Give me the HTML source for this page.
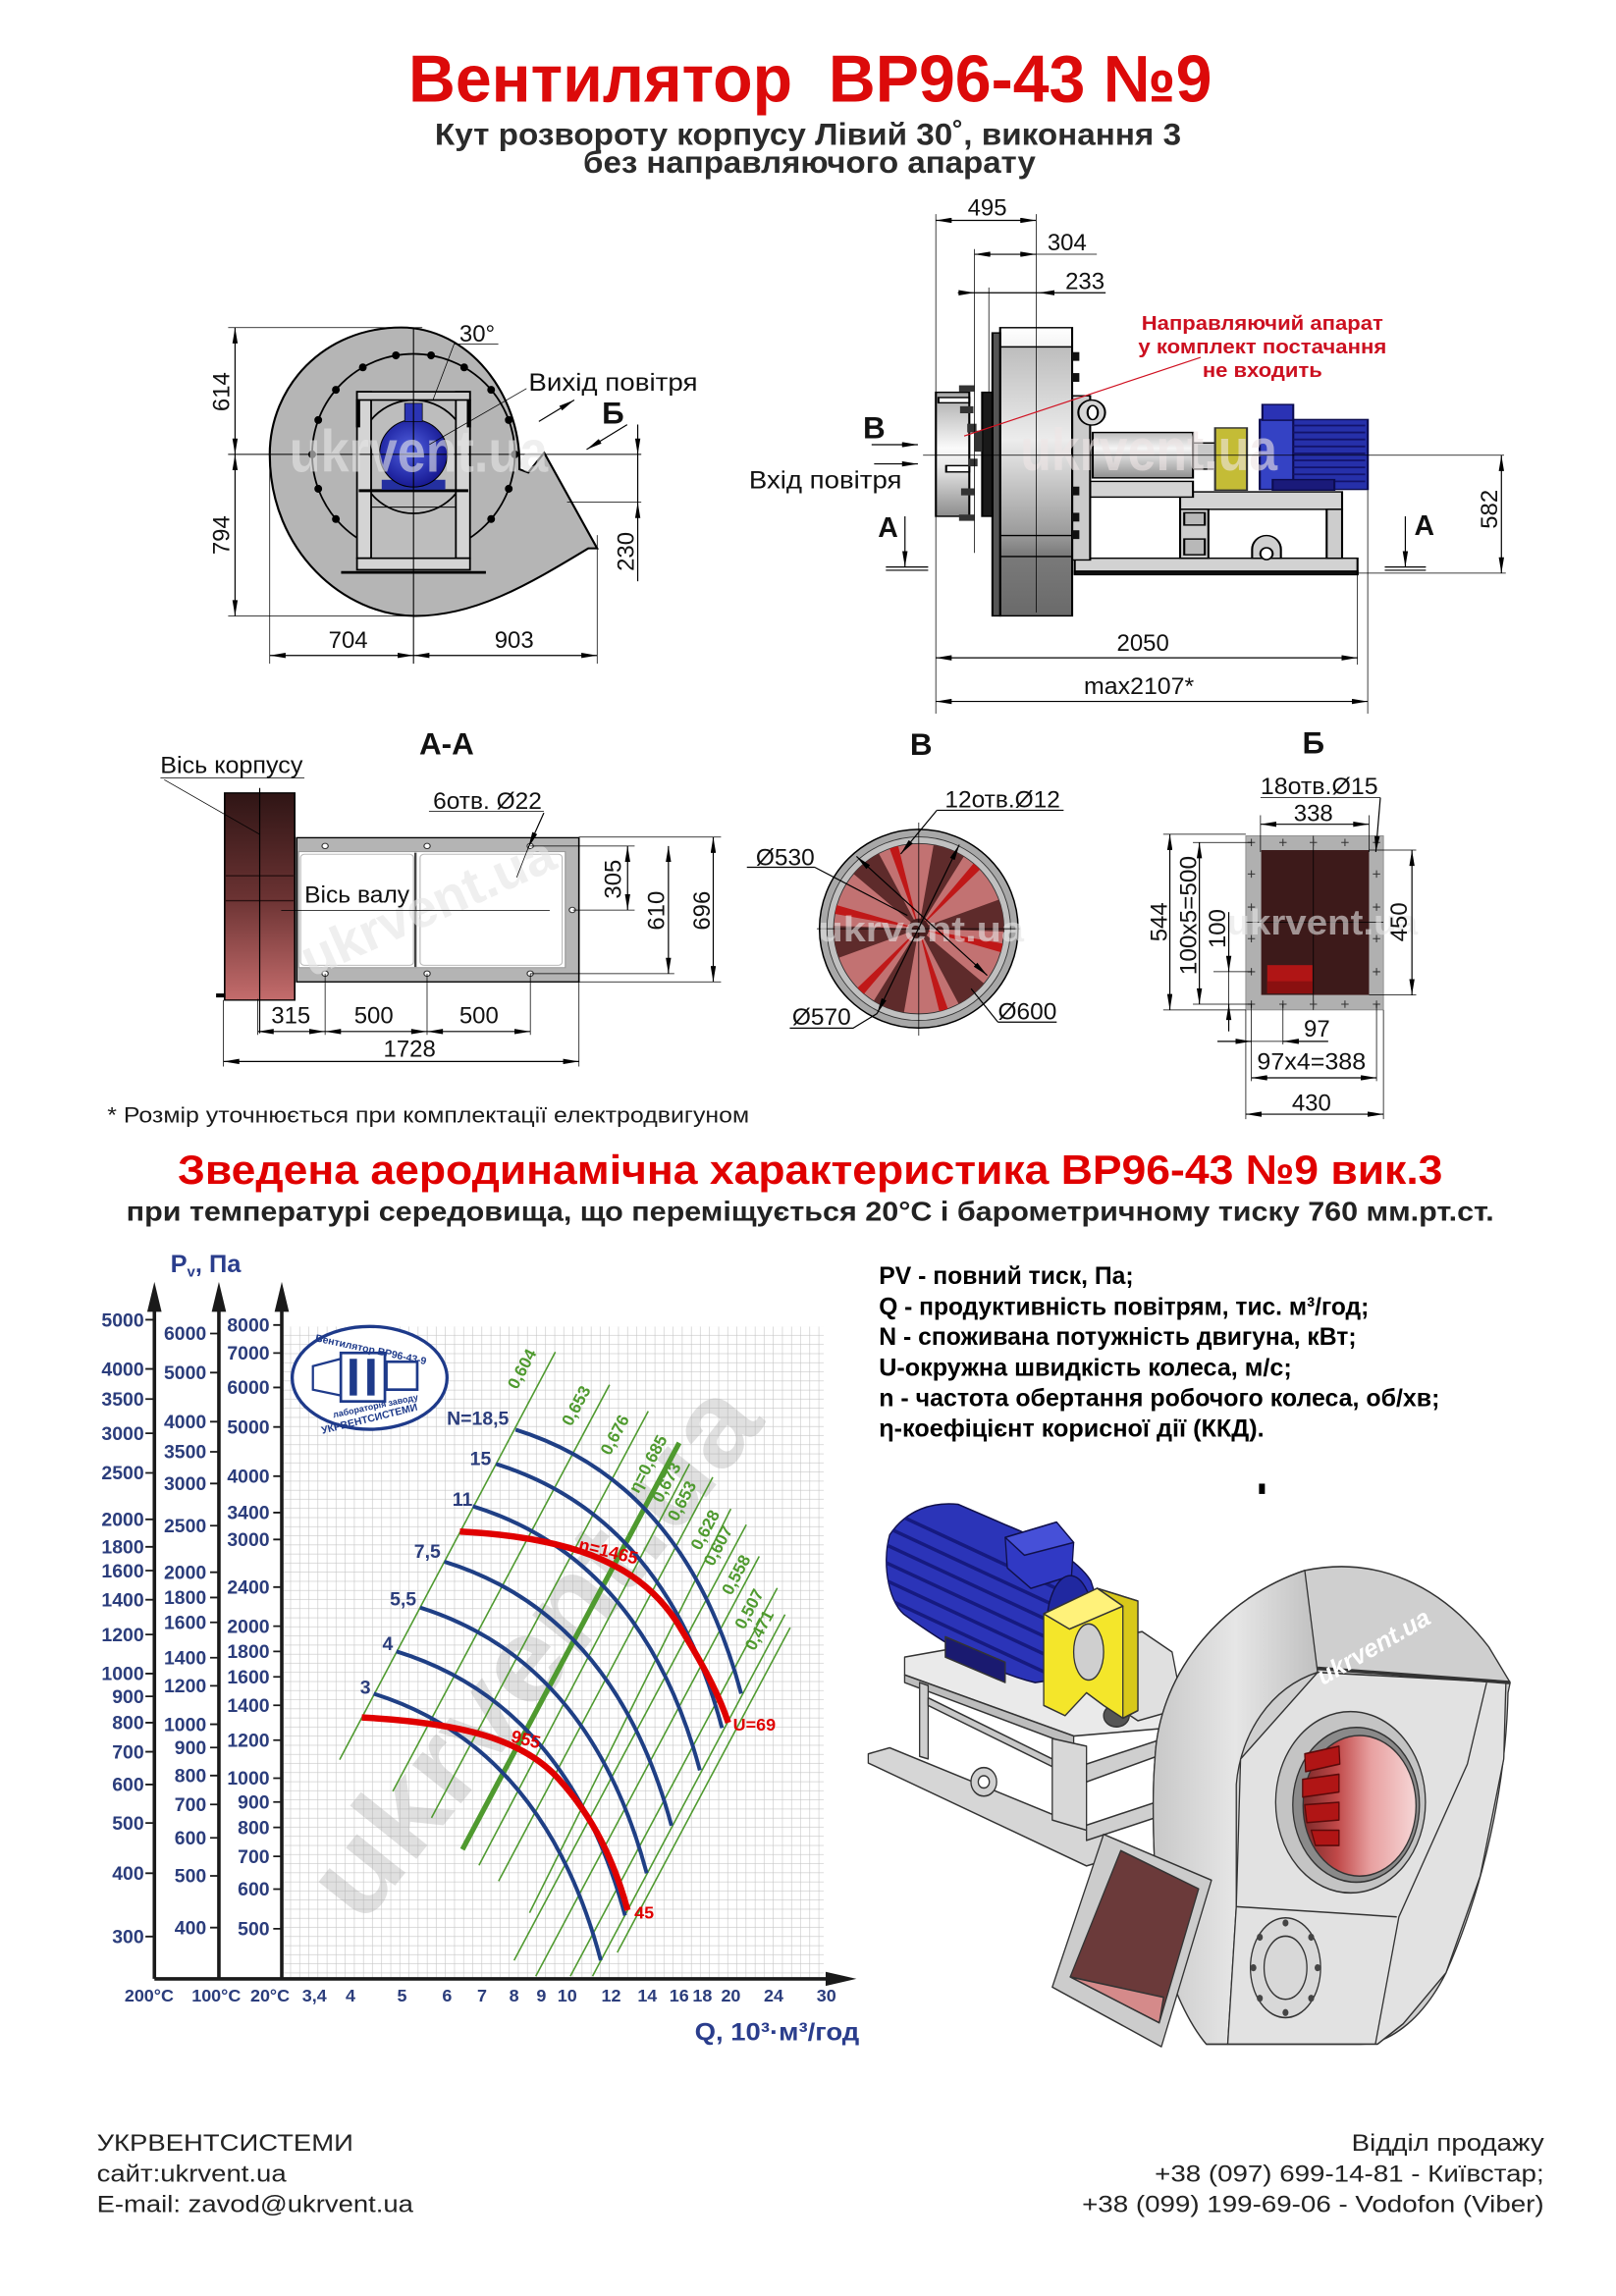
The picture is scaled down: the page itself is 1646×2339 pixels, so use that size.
<!DOCTYPE html>
<html lang="uk"><head><meta charset="utf-8"><title>Вентилятор ВР96-43 №9</title>
<style>
html,body{margin:0;padding:0;background:#fff;width:1646px;height:2339px;overflow:hidden}
svg{display:block}
text{font-family:"Liberation Sans",Arial,sans-serif}
.d{font-size:16px;fill:#111;text-anchor:middle}
.l{stroke:#000;stroke-width:0.8;fill:none}
.t{stroke:#000;stroke-width:0.5;fill:none}
.m{marker-start:url(#ar);marker-end:url(#ar)}
.e{marker-end:url(#ar)}
.ax{font-size:13px;font-weight:bold;fill:#2b3d7c;text-anchor:end}
.xl{font-size:12px;font-weight:bold;fill:#2b3d7c;text-anchor:middle}
.g{font-size:11.5px;font-weight:bold;fill:#4f9a2f;text-anchor:middle}
.nb{font-size:13px;font-weight:bold;fill:#2b3d7c;text-anchor:middle}
.lg{font-size:17px;fill:#000;font-weight:bold}
.ft{font-size:16px;fill:#222}
.wm{font-weight:bold;fill:#e6e6e6;opacity:0.6;text-anchor:middle}
</style></head><body>
<svg xmlns="http://www.w3.org/2000/svg" width="1646" height="2339" viewBox="0 0 1100 1563" preserveAspectRatio="none">
<defs>
 <marker id="ar" viewBox="0 0 12 4" refX="12" refY="2" markerWidth="11" markerHeight="3.6" markerUnits="userSpaceOnUse" orient="auto-start-reverse"><path d="M0,0L12,2L0,4z" fill="#000"/></marker>
 <linearGradient id="hous" x1="0" y1="0" x2="0" y2="1">
  <stop offset="0" stop-color="#ffffff"/><stop offset="0.066" stop-color="#f4f4f4"/><stop offset="0.067" stop-color="#bdbdbd"/><stop offset="0.39" stop-color="#ececec"/><stop offset="0.72" stop-color="#9a9a9a"/><stop offset="0.79" stop-color="#7a7a7a"/><stop offset="1" stop-color="#6a6a6a"/>
 </linearGradient>
 <linearGradient id="inl" x1="0" y1="0" x2="0" y2="1"><stop offset="0" stop-color="#a8a8a8"/><stop offset="0.45" stop-color="#fafafa"/><stop offset="0.6" stop-color="#e8e8e8"/><stop offset="1" stop-color="#8c8c8c"/></linearGradient>
 <linearGradient id="cyl" x1="0" y1="0" x2="0" y2="1"><stop offset="0" stop-color="#bdbdbd"/><stop offset="0.35" stop-color="#f5f5f5"/><stop offset="1" stop-color="#8f8f8f"/></linearGradient>
 <linearGradient id="redG" x1="0" y1="0" x2="0" y2="1"><stop offset="0" stop-color="#2f1515"/><stop offset="0.5" stop-color="#6a3232"/><stop offset="1" stop-color="#c46c6c"/></linearGradient>
 <radialGradient id="mot" cx="0.45" cy="0.45" r="0.6"><stop offset="0" stop-color="#5563e0"/><stop offset="0.6" stop-color="#2a32b0"/><stop offset="1" stop-color="#14148a"/></radialGradient>
 <linearGradient id="pink" x1="0" y1="0" x2="1" y2="0"><stop offset="0" stop-color="#7a2a2a"/><stop offset="0.3" stop-color="#c04848"/><stop offset="0.6" stop-color="#e8a0a0"/><stop offset="1" stop-color="#f6d6d6"/></linearGradient>
 <linearGradient id="grayL" x1="0" y1="0" x2="1" y2="0"><stop offset="0" stop-color="#c8c8c8"/><stop offset="0.5" stop-color="#e6e6e6"/><stop offset="1" stop-color="#c0c0c0"/></linearGradient>
 <pattern id="grid" width="6.2" height="6.2" patternUnits="userSpaceOnUse" x="191.8" y="903.1"><path d="M6.2 0V6.2M0 6.2H6.2" stroke="#c6c6c6" stroke-width="0.8" fill="none"/></pattern>
 <clipPath id="mclip"><path d="M60,560 C100,510 160,495 220,500 L330,540 C420,570 500,610 530,650 C560,720 540,800 480,840 L400,850 C300,830 200,780 100,720 C60,700 40,620 60,560 Z"/></clipPath>
</defs>
<rect width="1100" height="1563" fill="#fff"/>

<!-- TITLES -->
<text x="551.5" y="69" font-size="45" font-weight="bold" fill="#dc0a0a" text-anchor="middle" textLength="547" lengthAdjust="spacingAndGlyphs">Вентилятор&#160; ВР96-43 №9</text>
<text x="550" y="98.5" font-size="21" font-weight="bold" fill="#2b2b2b" text-anchor="middle" textLength="508" lengthAdjust="spacingAndGlyphs">Кут розвороту корпусу Лівий 30˚, виконання 3</text>
<text x="551" y="117.5" font-size="21" font-weight="bold" fill="#2b2b2b" text-anchor="middle" textLength="308" lengthAdjust="spacingAndGlyphs">без направляючого апарату</text>

<!-- TOP-LEFT DRAWING -->
<g transform="translate(119.2,200.5) scale(0.2404,0.2244)">
 <path d="M975,520 C978,300 830,100 640,100 C420,100 268,280 268,485 C268,780 480,975 680,975 C850,975 1000,880 1170,770 L1195,770 L1045,480 L1000,540 L975,530 Z" fill="#b5b5b5" stroke="#000" stroke-width="6"/>
 <ellipse cx="675" cy="485" rx="287" ry="305" fill="none" stroke="#000" stroke-width="5"/>
 <g fill="#000">
  <ellipse cx="962" cy="485" rx="11" ry="12"/><ellipse cx="944.7" cy="589.3" rx="11" ry="12"/><ellipse cx="894.8" cy="681.1" rx="11" ry="12"/><ellipse cx="818.5" cy="749.1" rx="11" ry="12"/><ellipse cx="724.8" cy="785.4" rx="11" ry="12"/><ellipse cx="625.2" cy="785.4" rx="11" ry="12"/><ellipse cx="531.5" cy="749.1" rx="11" ry="12"/><ellipse cx="455.2" cy="681.1" rx="11" ry="12"/><ellipse cx="405.3" cy="589.3" rx="11" ry="12"/><ellipse cx="388" cy="485" rx="11" ry="12"/><ellipse cx="405.3" cy="380.7" rx="11" ry="12"/><ellipse cx="455.2" cy="289" rx="11" ry="12"/><ellipse cx="531.5" cy="220.9" rx="11" ry="12"/><ellipse cx="625.2" cy="184.6" rx="11" ry="12"/><ellipse cx="724.8" cy="184.6" rx="11" ry="12"/><ellipse cx="818.5" cy="220.9" rx="11" ry="12"/><ellipse cx="894.8" cy="289" rx="11" ry="12"/><ellipse cx="944.7" cy="380.7" rx="11" ry="12"/>
 </g>
 <rect x="555" y="320" width="240" height="480" fill="#bdbdbd"/>
 <ellipse cx="675" cy="492" rx="158" ry="172" fill="none" stroke="#000" stroke-width="5"/>
 <rect x="515" y="295" width="40" height="505" fill="#d4d4d4" stroke="#000" stroke-width="5"/>
 <rect x="795" y="295" width="40" height="505" fill="#d4d4d4" stroke="#000" stroke-width="5"/>
 <rect x="515" y="295" width="320" height="25" fill="#cdcdcd" stroke="#000" stroke-width="5"/>
 <rect x="512" y="318" width="12" height="85" fill="#000"/><rect x="826" y="318" width="12" height="85" fill="#000"/>
 <line x1="520" y1="595" x2="830" y2="595" stroke="#000" stroke-width="9"/>
 <line x1="555" y1="645" x2="795" y2="645" stroke="#000" stroke-width="3"/>
 <rect x="515" y="800" width="320" height="35" fill="#d4d4d4" stroke="#000" stroke-width="5"/>
 <line x1="470" y1="843" x2="880" y2="843" stroke="#000" stroke-width="8"/>
 <rect x="585" y="562" width="180" height="30" fill="#2430a0"/>
 <ellipse cx="675" cy="482" rx="96" ry="102" fill="url(#mot)" stroke="#000" stroke-width="3"/>
 <rect x="650" y="330" width="50" height="55" fill="#2b34b4" stroke="#000" stroke-width="2"/>
 <line x1="675" y1="100" x2="675" y2="1120" stroke="#000" stroke-width="3"/>
 <line x1="150" y1="485" x2="1320" y2="485" stroke="#000" stroke-width="3"/>
</g>
<text x="285" y="321" font-size="40" class="wm" textLength="176" lengthAdjust="spacingAndGlyphs">ukrvent.ua</text>
<!-- dims top-left -->
<path class="t" d="M155.3,223H287.5M155.3,419.3H282M183.6,317V451.8M406.5,364.3V451.8M386,341.9H436.5"/>
<line class="l m" x1="160" y1="223" x2="160" y2="309.3"/>
<line class="l m" x1="160" y1="309.3" x2="160" y2="419.3"/>
<line class="l m" x1="183.6" y1="446.2" x2="281.5" y2="446.2"/>
<line class="l m" x1="281.5" y1="446.2" x2="406.5" y2="446.2"/>
<line class="l" x1="434.1" y1="309.3" x2="434.1" y2="341.9"/>
<line class="l e" x1="434.1" y1="289" x2="434.1" y2="309.3"/>
<line class="l e" x1="434.1" y1="395.7" x2="434.1" y2="341.9"/>
<text class="d" transform="translate(156.2,266.7) rotate(-90)">614</text>
<text class="d" transform="translate(156.2,364.3) rotate(-90)">794</text>
<text class="d" x="237" y="441">704</text>
<text class="d" x="350" y="441">903</text>
<text class="d" transform="translate(431.4,375.5) rotate(-90)">230</text>
<text class="d" x="324.8" y="232.5">30°</text>
<path class="t" d="M309.1,234.2H339.2M309.1,234.2L294.7,272.3M358.4,264.5L292.3,302.6"/>
<text x="417.3" y="265.8" font-size="17" fill="#111" text-anchor="middle" textLength="115" lengthAdjust="spacingAndGlyphs">Вихід повітря</text>
<line class="l e" x1="366.8" y1="286.9" x2="390.9" y2="272.3"/>
<text x="417.3" y="288.5" font-size="21" font-weight="bold" fill="#111" text-anchor="middle">Б</text>
<line class="l e" x1="426.9" y1="289.1" x2="399.3" y2="306"/>

<!-- TOP-RIGHT DRAWING -->
<g transform="translate(495.3,122) scale(0.35,0.2378)" stroke="#000" stroke-width="4">
 <rect x="675" y="1085" width="550" height="45" fill="#d2d2d2"/>
 <rect x="675" y="1122" width="550" height="10" fill="#111"/>
 <path d="M1020,1085 L1020,1060 A28,40 0 0 1 1076,1060 L1076,1085 Z" fill="#cfcfcf"/>
 <ellipse cx="1048" cy="1072" rx="12" ry="17" fill="#fff"/>
 <rect x="880" y="895" width="315" height="50" fill="#d4d4d4"/>
 <rect x="880" y="945" width="55" height="140" fill="#cdcdcd"/>
 <rect x="888" y="955" width="40" height="35" fill="#b8b8b8"/>
 <rect x="888" y="1030" width="40" height="45" fill="#b8b8b8"/>
 <rect x="1165" y="945" width="30" height="140" fill="#cdcdcd"/>
 <rect x="705" y="865" width="200" height="45" fill="#d4d4d4"/>
 <rect x="710" y="725" width="195" height="130" fill="url(#cyl)"/>
 <rect x="905" y="755" width="45" height="75" fill="#c8c8c8"/>
 <rect x="948" y="712" width="62" height="178" fill="#c4bc36" stroke="#333"/>
 <rect x="1035" y="688" width="210" height="200" fill="#2630aa" stroke="#0c0c50"/>
 <rect x="1035" y="688" width="65" height="200" fill="#3442c4" stroke="#0c0c50"/>
 <path d="M1100,705H1240M1100,725H1240M1100,745H1240M1100,765H1240M1100,785H1240M1100,805H1240M1100,825H1240M1100,845H1240M1100,865H1240" stroke="#13136a" stroke-width="5"/>
 <rect x="1040" y="645" width="60" height="45" fill="#2a32b4" stroke="#0c0c50"/>
 <rect x="1060" y="860" width="120" height="30" fill="#1a1a7a" stroke="#0c0c50"/>
 <rect x="670" y="620" width="35" height="470" fill="#cbcbcb"/>
 <ellipse cx="708" cy="668" rx="26" ry="36" fill="#d6d6d6"/>
 <ellipse cx="710" cy="668" rx="10" ry="20" fill="#fff"/>
 <rect x="530" y="425" width="140" height="825" fill="url(#hous)"/>
 <rect x="515" y="440" width="15" height="810" fill="#555"/>
 <line x1="530" y1="480" x2="670" y2="480"/>
 <line x1="530" y1="1020" x2="670" y2="1020"/>
 <line x1="530" y1="1080" x2="670" y2="1080"/>
 <g fill="#111" stroke="none"><rect x="670" y="495" width="14" height="25"/><rect x="670" y="555" width="14" height="25"/><rect x="670" y="880" width="14" height="25"/><rect x="670" y="955" width="14" height="25"/><rect x="670" y="1005" width="14" height="25"/></g>
 <rect x="495" y="610" width="20" height="355" fill="#1a1a1a"/>
 <rect x="405" y="610" width="65" height="355" fill="url(#inl)"/>
 <rect x="410" y="625" width="60" height="15" fill="#fff"/>
 <rect x="425" y="820" width="45" height="18" fill="#fff"/>
 <g fill="#333" stroke="none"><rect x="450" y="590" width="30" height="18"/><rect x="452" y="650" width="26" height="20"/><rect x="466" y="700" width="18" height="25"/><rect x="468" y="800" width="18" height="22"/><rect x="454" y="885" width="26" height="20"/><rect x="450" y="960" width="30" height="18"/><rect x="480" y="720" width="15" height="60"/></g>
</g>
<text x="782" y="320" font-size="40" class="wm" textLength="175" lengthAdjust="spacingAndGlyphs" style="fill:#efe6e6">ukrvent.ua</text>
<!-- dims top-right -->
<path class="t" d="M637,145.8V485.8M705.3,145.8V417M663.3,169.6V376.4M673.1,195.7V267M705.3,173.1H746.6M628.3,309.9H1023.8M924,390.2H1025M924,390.7V452.5M931,333.6V485.8"/>
<line class="l m" x1="637" y1="150" x2="705.3" y2="150"/>
<line class="l m" x1="663.3" y1="173.1" x2="705.3" y2="173.1"/>
<line class="l" x1="663.3" y1="199.3" x2="707" y2="199.3"/>
<line class="l e" x1="652" y1="199.3" x2="663.3" y2="199.3"/>
<line class="l e" x1="752.6" y1="199.3" x2="707" y2="199.3"/>
<text class="d" x="672" y="146.7">495</text>
<text class="d" x="726.3" y="170.5">304</text>
<text class="d" x="738.5" y="196.7">233</text>
<line class="l m" x1="1022" y1="309.9" x2="1022" y2="390.2"/>
<text class="d" transform="translate(1019,346.7) rotate(-90)">582</text>
<text x="595" y="298.3" font-size="21" font-weight="bold" fill="#111" text-anchor="middle">В</text>
<line class="l e" x1="593.3" y1="302.7" x2="624.8" y2="302.7"/>
<line class="l e" x1="595" y1="315.8" x2="624.8" y2="315.8"/>
<text x="561.8" y="332.5" font-size="17" fill="#111" text-anchor="middle" textLength="104" lengthAdjust="spacingAndGlyphs">Вхід повітря</text>
<text x="604.5" y="365.5" font-size="19" font-weight="bold" fill="#111" text-anchor="middle">А</text>
<line class="l e" x1="616" y1="351.5" x2="616" y2="386"/>
<path class="l" d="M603,386H631.8M603,388.2H631.8"/>
<text x="969.5" y="364.3" font-size="19" font-weight="bold" fill="#111" text-anchor="middle">А</text>
<line class="l e" x1="956.6" y1="351.5" x2="956.6" y2="386"/>
<path class="l" d="M942.6,386H970.6M942.6,388.2H970.6"/>
<text x="859.3" y="224.5" font-size="13.5" font-weight="bold" fill="#cc1020" text-anchor="middle" textLength="164.5" lengthAdjust="spacingAndGlyphs">Направляючий апарат</text>
<text x="859.3" y="240.7" font-size="13.5" font-weight="bold" fill="#cc1020" text-anchor="middle" textLength="169" lengthAdjust="spacingAndGlyphs">у комплект постачання</text>
<text x="859.3" y="256.6" font-size="13.5" font-weight="bold" fill="#cc1020" text-anchor="middle" textLength="81.5" lengthAdjust="spacingAndGlyphs">не входить</text>
<line x1="817.3" y1="243.3" x2="656.3" y2="296.8" stroke="#d01020" stroke-width="0.8"/>
<line class="l m" x1="637" y1="447.8" x2="924" y2="447.8"/>
<text class="d" x="778" y="443">2050</text>
<line class="l m" x1="637" y1="477.5" x2="931" y2="477.5"/>
<text class="d" x="775.3" y="472.5" textLength="75" lengthAdjust="spacingAndGlyphs">max2107*</text>

<!-- SECTION A-A -->
<g transform="translate(93.3,486.8) scale(0.265,0.2256)" stroke="#000" stroke-width="4">
 <rect x="225" y="235" width="180" height="625" fill="url(#redG)"/>
 <line x1="225" y1="485" x2="405" y2="485" stroke="#2a1010"/>
 <line x1="225" y1="560" x2="405" y2="560" stroke="#2a1010"/>
 <rect x="205" y="842" width="20" height="8" fill="#000"/>
 <rect x="410" y="370" width="725" height="435" fill="#b4b4b4"/>
 <rect x="415" y="412" width="685" height="350" fill="#fff" stroke="#999" stroke-width="3"/>
 <rect x="420" y="420" width="290" height="335" rx="10" fill="none" stroke="#bbb" stroke-width="3"/>
 <rect x="727" y="420" width="365" height="335" rx="10" fill="none" stroke="#bbb" stroke-width="3"/>
 <line x1="715" y1="415" x2="715" y2="760" stroke="#444" stroke-width="6"/>
 <g fill="#fff" stroke="#333" stroke-width="3"><circle cx="483" cy="395" r="8"/><circle cx="745" cy="395" r="8"/><circle cx="1010" cy="395" r="8"/><circle cx="483" cy="780" r="8"/><circle cx="745" cy="780" r="8"/><circle cx="1010" cy="780" r="8"/><circle cx="1118" cy="588" r="8"/></g>
 <line x1="315" y1="220" x2="315" y2="960" stroke-width="3"/>
</g>
<text class="wm" font-size="36" transform="translate(296,628) rotate(-24)" textLength="185" lengthAdjust="spacingAndGlyphs">ukrvent.ua</text>
<text x="304" y="513.5" font-size="21" font-weight="bold" fill="#111" text-anchor="middle">А-А</text>
<text x="157.6" y="526.3" font-size="16" fill="#111" text-anchor="middle" textLength="97" lengthAdjust="spacingAndGlyphs">Вісь корпусу</text>
<path class="t" d="M109.2,529.7H207.2M111.8,530.8L176.8,568M292,552.2H370.2M359.6,577L351.7,597.3M191.4,619.9H374.2"/>
<line class="l e" x1="370.2" y1="553.4" x2="359.6" y2="577"/>
<text x="331.8" y="550.5" font-size="16" fill="#111" text-anchor="middle" textLength="74" lengthAdjust="spacingAndGlyphs">6отв. Ø22</text>
<text x="243" y="614.3" font-size="16" fill="#111" text-anchor="middle" textLength="71.5" lengthAdjust="spacingAndGlyphs">Вісь валу</text>
<path class="t" d="M394,569.8H490.8M361,575.9H432M390,619.5H432M361,662.8H459M394,668.4H490.8M152.1,680.8V726M394.1,668.4V726M221.3,662.8V704.5M290.7,662.8V704.5M361,662.8V704.5M175.5,680V704.5"/>
<line class="l m" x1="427.2" y1="575.9" x2="427.2" y2="619.5"/>
<line class="l m" x1="455" y1="575.9" x2="455" y2="662.8"/>
<line class="l m" x1="485.5" y1="569.8" x2="485.5" y2="668.4"/>
<text class="d" transform="translate(422.8,598.5) rotate(-90)">305</text>
<text class="d" transform="translate(452,619.9) rotate(-90)">610</text>
<text class="d" transform="translate(483.2,619.9) rotate(-90)">696</text>
<line class="l m" x1="175.5" y1="702.2" x2="221.3" y2="702.2"/>
<line class="l m" x1="221.3" y1="702.2" x2="290.7" y2="702.2"/>
<line class="l m" x1="290.7" y1="702.2" x2="361" y2="702.2"/>
<line class="l m" x1="152.1" y1="722.6" x2="394.1" y2="722.6"/>
<text class="d" x="198" y="696.7">315</text>
<text class="d" x="254.4" y="696.7">500</text>
<text class="d" x="326" y="696.7">500</text>
<text class="d" x="278.8" y="719.2">1728</text>

<!-- SECTION В -->
<circle cx="625.4" cy="632.2" r="67.6" fill="#a8a8a8" stroke="#000" stroke-width="1"/>
<circle cx="625.4" cy="632.2" r="62.5" fill="#c0c0c0" stroke="#333" stroke-width="0.6"/>
<circle cx="625.4" cy="632.2" r="58" fill="#c27272" stroke="#333" stroke-width="0.6"/>
<g fill="#5e2b2b">
 <path d="M625.4,632.2L635.5,575.1A58,58 0 0 1 656.1,583Z"/>
 <path d="M625.4,632.2L679.9,612.4A58,58 0 0 1 683.4,634.2Z"/>
 <path d="M625.4,632.2L669.8,669.5A58,58 0 0 1 652.6,683.4Z"/>
 <path d="M625.4,632.2L615.3,689.3A58,58 0 0 1 594.7,681.4Z"/>
 <path d="M625.4,632.2L570.9,652A58,58 0 0 1 567.4,630.2Z"/>
 <path d="M625.4,632.2L581,594.9A58,58 0 0 1 598.2,581Z"/>
</g>
<g fill="#c01818">
 <path d="M625.4,632.2L662.7,587.8A58,58 0 0 1 667.1,591.9Z"/>
 <path d="M625.4,632.2L682.5,642.3A58,58 0 0 1 681.2,648.2Z"/>
 <path d="M625.4,632.2L645.2,686.7A58,58 0 0 1 639.4,688.5Z"/>
 <path d="M625.4,632.2L588.1,676.6A58,58 0 0 1 583.7,672.5Z"/>
 <path d="M625.4,632.2L568.3,622.1A58,58 0 0 1 569.6,616.2Z"/>
 <path d="M625.4,632.2L605.6,577.7A58,58 0 0 1 611.4,575.9Z"/>
</g>
<circle cx="625.4" cy="632.2" r="7" fill="#4a2020"/>
<path class="t" d="M556,632.2H694M625.4,560V705"/>
<text class="wm" font-size="24" x="627" y="641" textLength="140" lengthAdjust="spacingAndGlyphs">ukrvent.ua</text>
<line class="l m" x1="583" y1="583" x2="672" y2="664"/>
<line class="l m" x1="653" y1="575" x2="597" y2="690"/>
<path class="l" d="M597,690L580.7,699.9H537.6M554.6,590.4L617.7,623.2M554.6,590.4H508.4M637.7,551.6H724M679.3,695.8H719.3M679.3,695.8L661,673"/>
<line class="l e" x1="637.7" y1="551.6" x2="613.1" y2="581.4"/>
<text x="627" y="514" font-size="21" font-weight="bold" fill="#111" text-anchor="middle">В</text>
<text class="d" x="682.4" y="549.5" textLength="78.5" lengthAdjust="spacingAndGlyphs">12отв.Ø12</text>
<text class="d" x="534.5" y="589" textLength="40" lengthAdjust="spacingAndGlyphs">Ø530</text>
<text class="d" x="559.2" y="697.5" textLength="40" lengthAdjust="spacingAndGlyphs">Ø570</text>
<text class="d" x="699.3" y="694" textLength="40" lengthAdjust="spacingAndGlyphs">Ø600</text>

<!-- SECTION Б -->
<rect x="848" y="569" width="93.7" height="118.5" fill="#b0b0b0" stroke="#8a8a8a" stroke-width="0.6"/>
<rect x="858.5" y="578.7" width="73.4" height="98.6" fill="#3d1a1a"/>
<rect x="862.6" y="657" width="30.8" height="19.2" fill="#b01515"/>
<rect x="862.6" y="668" width="30.8" height="8.2" fill="#8a1010"/>
<path class="t" d="M894,569V687.5M848,627.7H941.7"/>
<path stroke="#333" stroke-width="0.7" fill="none" d="M849.3,573.5h5M851.8,571v5M870.8,573.5h5M873.3,571v5M891.5,573.5h5M894,571v5M913,573.5h5M915.5,571v5M934.5,573.5h5M937,571v5M849.3,683.6h5M851.8,681.1v5M870.8,683.6h5M873.3,681.1v5M891.5,683.6h5M894,681.1v5M913,683.6h5M915.5,681.1v5M934.5,683.6h5M937,681.1v5M849.3,595h5M851.8,592.5v5M849.3,617.5h5M851.8,615v5M849.3,639h5M851.8,636.5v5M849.3,661.5h5M851.8,659v5M934.5,595h5M937,592.5v5M934.5,617.5h5M937,615v5M934.5,639h5M937,636.5v5M934.5,661.5h5M937,659v5"/>
<text class="wm" font-size="24" x="900" y="636" textLength="130" lengthAdjust="spacingAndGlyphs">ukrvent.ua</text>
<text x="894" y="513" font-size="21" font-weight="bold" fill="#111" text-anchor="middle">Б</text>
<text class="d" x="898" y="540.5" textLength="80" lengthAdjust="spacingAndGlyphs">18отв.Ø15</text>
<path class="t" d="M858,543H939.6M858,555V580M931.9,555V580M791.8,567.9H848M791.8,687.5H848M812,573.5H852M812,683.6H852M826,661.5H852M931.9,578.7H964M931.9,677.3H964M848,687.5V761.9M941.7,687.5V761.9M851.8,683.6V736M937,683.6V736M873.3,683.6V711M851.8,708.9H873.3M836.4,661.5V683.6"/>
<line class="l e" x1="939.6" y1="543" x2="936.5" y2="580"/>
<line class="l m" x1="858" y1="561.1" x2="931.9" y2="561.1"/>
<text class="d" x="894" y="559">338</text>
<line class="l m" x1="796.3" y1="567.9" x2="796.3" y2="687.5"/>
<text class="d" transform="translate(794.3,627.7) rotate(-90)">544</text>
<line class="l m" x1="816.4" y1="573.5" x2="816.4" y2="683.6"/>
<text class="d" transform="translate(814.2,623.2) rotate(-90)" textLength="81" lengthAdjust="spacingAndGlyphs">100x5=500</text>
<line class="l e" x1="836.4" y1="620.9" x2="836.4" y2="661.5"/>
<line class="l e" x1="836.4" y1="702.1" x2="836.4" y2="683.6"/>
<text class="d" transform="translate(834,632.2) rotate(-90)">100</text>
<line class="l m" x1="961.1" y1="578.7" x2="961.1" y2="677.3"/>
<text class="d" transform="translate(957.6,627.7) rotate(-90)">450</text>
<line class="l e" x1="828.7" y1="708.9" x2="851.8" y2="708.9"/>
<line class="l e" x1="904.1" y1="708.9" x2="873.3" y2="708.9"/>
<text class="d" x="896.4" y="705.6">97</text>
<line class="l m" x1="851.8" y1="733.7" x2="937" y2="733.7"/>
<text class="d" x="892.7" y="728.1" textLength="74" lengthAdjust="spacingAndGlyphs">97x4=388</text>
<line class="l m" x1="848" y1="758.5" x2="941.7" y2="758.5"/>
<text class="d" x="892.7" y="756">430</text>

<!-- FOOTNOTE & HEADINGS -->
<text x="73" y="764" font-size="15" fill="#1a1a1a" textLength="437" lengthAdjust="spacingAndGlyphs">* Розмір уточнюється при комплектації електродвигуном</text>
<text x="551.5" y="806" font-size="28" font-weight="bold" fill="#e00000" text-anchor="middle" textLength="861" lengthAdjust="spacingAndGlyphs">Зведена аеродинамічна характеристика ВР96-43 №9 вик.3</text>
<text x="551.5" y="831" font-size="18.5" font-weight="bold" fill="#222" text-anchor="middle" textLength="931" lengthAdjust="spacingAndGlyphs">при температурі середовища, що переміщується 20°С і барометричному тиску 760 мм.рт.ст.</text>

<!-- CHART -->
<rect x="191.8" y="903.1" width="368.9" height="444" fill="#fff"/>
<rect x="191.8" y="903.1" width="368.9" height="444" fill="url(#grid)"/>
<text font-size="80" font-weight="bold" fill="#a8a8a8" opacity="0.35" text-anchor="middle" transform="translate(384,1140) rotate(-51.3)" textLength="440" lengthAdjust="spacingAndGlyphs">ukrvent.ua</text>
<g transform="translate(60.1,843.8) scale(0.3513,0.3595)" fill="none">
 <g stroke="#4f9a2f" stroke-width="3">
  <line x1="487" y1="985" x2="905" y2="213"/>
  <line x1="590" y1="1045" x2="1010" y2="275"/>
  <line x1="665" y1="1095" x2="1085" y2="325"/>
  <line x1="757" y1="1185" x2="1165" y2="425"/>
  <line x1="795" y1="1215" x2="1210" y2="450"/>
  <line x1="855" y1="1275" x2="1245" y2="510"/>
  <line x1="825" y1="1365" x2="1275" y2="540"/>
  <line x1="867" y1="1395" x2="1300" y2="600"/>
  <line x1="934" y1="1395" x2="1335" y2="660"/>
  <line x1="977" y1="1395" x2="1350" y2="710"/>
  <line x1="1025" y1="1350" x2="1360" y2="735"/>
 </g>
 <line x1="725" y1="1155" x2="1145" y2="385" stroke="#4f9a2f" stroke-width="10"/>
 <g stroke="#1f3f85" stroke-width="7.5">
  <path d="M828,360 Q1156,460 1265,860"/>
  <path d="M790,425 Q1118,525 1228,925"/>
  <path d="M745,505 Q1075,605 1185,1005"/>
  <path d="M690,610 Q1020,710 1130,1110"/>
  <path d="M643,697 Q972,798 1082,1200"/>
  <path d="M597,780 Q929,880 1040,1280"/>
  <path d="M553,860 Q883,961 993,1365"/>
 </g>
 <g stroke="#e00000" stroke-width="12">
  <path d="M720,553 C950,565 1080,620 1150,740 C1200,820 1225,870 1240,915"/>
  <path d="M530,905 C720,915 840,945 910,1020 C980,1095 1020,1180 1045,1270"/>
 </g>
</g>
<!-- green labels -->
<text class="g" transform="translate(358.7,933.7) rotate(-62)">0,604</text>
<text class="g" transform="translate(395.6,958.8) rotate(-62)">0,653</text>
<text class="g" transform="translate(421.9,978.6) rotate(-62)">0,676</text>
<text class="g" transform="translate(444.5,998.4) rotate(-62)">η=0,685</text>
<text class="g" transform="translate(457.1,1011) rotate(-62)">0,673</text>
<text class="g" transform="translate(467.6,1023.6) rotate(-62)">0,653</text>
<text class="g" transform="translate(483.4,1043.3) rotate(-62)">0,628</text>
<text class="g" transform="translate(492.2,1054.1) rotate(-62)">0,607</text>
<text class="g" transform="translate(504.5,1073.9) rotate(-62)">0,558</text>
<text class="g" transform="translate(513.3,1097.2) rotate(-62)">0,507</text>
<text class="g" transform="translate(520.3,1111.6) rotate(-62)">0,471</text>
<!-- N labels -->
<text class="nb" x="325.3" y="970">N=18,5</text>
<text class="nb" x="327.1" y="997.5">15</text>
<text class="nb" x="314.8" y="1025.2">11</text>
<text class="nb" x="290.9" y="1060.4">7,5</text>
<text class="nb" x="274.4" y="1092.8">5,5</text>
<text class="nb" x="263.9" y="1123.3">4</text>
<text class="nb" x="248.7" y="1153.2">3</text>
<text font-size="12" font-weight="bold" fill="#e00000" transform="translate(413.2,1060) rotate(14)" text-anchor="middle">n=1465</text>
<text font-size="12" font-weight="bold" fill="#e00000" transform="translate(357,1188) rotate(14)" text-anchor="middle">955</text>
<text x="499" y="1178" font-size="12" font-weight="bold" fill="#e00000">U=69</text>
<text x="431.8" y="1306" font-size="12" font-weight="bold" fill="#e00000">45</text>
<!-- logo -->
<ellipse cx="251.6" cy="938" rx="52.7" ry="35" fill="#fff" stroke="#1e3a8a" stroke-width="2.2"/>
<polygon points="213,930 232,925 232,950 213,946" fill="none" stroke="#1e3a8a" stroke-width="1.5"/>
<rect x="232" y="921" width="30" height="33" fill="#fff" stroke="#1e3a8a" stroke-width="1.8"/>
<rect x="238" y="925" width="5" height="25" fill="#1e3a8a"/>
<rect x="250" y="925" width="5" height="25" fill="#1e3a8a"/>
<rect x="263" y="927" width="21" height="19" fill="#fff" stroke="#1e3a8a" stroke-width="1.8"/>
<text x="252" y="921" font-size="7" font-weight="bold" fill="#1e3a8a" text-anchor="middle" transform="rotate(12 252 921)">Вентилятор ВР96-43-9</text>
<text x="256" y="959" font-size="6" font-weight="bold" fill="#1e3a8a" text-anchor="middle" transform="rotate(-12 256 959)">лабораторія заводу</text>
<text x="252" y="968" font-size="7" font-weight="bold" fill="#1e3a8a" text-anchor="middle" transform="rotate(-14 252 968)">УКРВЕНТСИСТЕМИ</text>
<!-- axes -->
<g stroke="#1a1a1a" stroke-width="2.4">
 <line x1="105.1" y1="888" x2="105.1" y2="1347.1"/>
 <line x1="149" y1="888" x2="149" y2="1347.1"/>
 <line x1="191.8" y1="888" x2="191.8" y2="1347.1"/>
 <line x1="105.1" y1="1347.1" x2="566" y2="1347.1"/>
</g>
<g fill="#1a1a1a">
 <polygon points="105.1,872.6 100.2,893 110,893"/>
 <polygon points="149,872.6 144.1,893 153.9,893"/>
 <polygon points="191.8,872.6 186.9,893 196.7,893"/>
 <polygon points="583,1347.1 562,1342.3 562,1351.9"/>
</g>
<path stroke="#1a1a1a" stroke-width="1.2" fill="none" d="M99,898.4h6M99,931.9h6M99,952.4h6M99,975.7h6M99,1002.7h6M99,1034.3h6M99,1053h6M99,1069.2h6M99,1089h6M99,1112.7h6M99,1139.3h6M99,1154.8h6M99,1172.7h6M99,1192.5h6M99,1214.8h6M99,1241h6M99,1275.2h6M99,1318.3h6M143,907.8h6M143,934.4h6M143,967.8h6M143,988.3h6M143,1009.9h6M143,1038.6h6M143,1070.3h6M143,1087.5h6M143,1104.4h6M143,1128.5h6M143,1147.6h6M143,1173.8h6M143,1189.6h6M143,1208.7h6M143,1228.4h6M143,1251.1h6M143,1277h6M143,1312.2h6M186,902h6M186,921.1h6M186,944.5h6M186,971.4h6M186,1004.9h6M186,1029.7h6M186,1048h6M186,1080.4h6M186,1107h6M186,1124.2h6M186,1141.5h6M186,1160.9h6M186,1184.6h6M186,1210.5h6M186,1226.7h6M186,1244h6M186,1263.7h6M186,1286h6M186,1313h6"/>
<g class="ax">
 <text class="ax" x="98" y="903">5000</text><text class="ax" x="98" y="936.4">4000</text><text class="ax" x="98" y="957">3500</text><text class="ax" x="98" y="980.2">3000</text><text class="ax" x="98" y="1007.2">2500</text><text class="ax" x="98" y="1038.8">2000</text><text class="ax" x="98" y="1057.5">1800</text><text class="ax" x="98" y="1073.7">1600</text><text class="ax" x="98" y="1093.5">1400</text><text class="ax" x="98" y="1117.2">1200</text><text class="ax" x="98" y="1143.8">1000</text><text class="ax" x="98" y="1159.3">900</text><text class="ax" x="98" y="1177.2">800</text><text class="ax" x="98" y="1197">700</text><text class="ax" x="98" y="1219.3">600</text><text class="ax" x="98" y="1245.5">500</text><text class="ax" x="98" y="1279.7">400</text><text class="ax" x="98" y="1322.8">300</text>
 <text class="ax" x="140.5" y="912.3">6000</text><text class="ax" x="140.5" y="938.9">5000</text><text class="ax" x="140.5" y="972.3">4000</text><text class="ax" x="140.5" y="992.8">3500</text><text class="ax" x="140.5" y="1014.4">3000</text><text class="ax" x="140.5" y="1043.1">2500</text><text class="ax" x="140.5" y="1074.8">2000</text><text class="ax" x="140.5" y="1092">1800</text><text class="ax" x="140.5" y="1108.9">1600</text><text class="ax" x="140.5" y="1133">1400</text><text class="ax" x="140.5" y="1152.1">1200</text><text class="ax" x="140.5" y="1178.3">1000</text><text class="ax" x="140.5" y="1194.1">900</text><text class="ax" x="140.5" y="1213.2">800</text><text class="ax" x="140.5" y="1232.9">700</text><text class="ax" x="140.5" y="1255.6">600</text><text class="ax" x="140.5" y="1281.5">500</text><text class="ax" x="140.5" y="1316.7">400</text>
 <text class="ax" x="183.5" y="906.5">8000</text><text class="ax" x="183.5" y="925.6">7000</text><text class="ax" x="183.5" y="949">6000</text><text class="ax" x="183.5" y="975.9">5000</text><text class="ax" x="183.5" y="1009.4">4000</text><text class="ax" x="183.5" y="1034.2">3400</text><text class="ax" x="183.5" y="1052.5">3000</text><text class="ax" x="183.5" y="1084.9">2400</text><text class="ax" x="183.5" y="1111.5">2000</text><text class="ax" x="183.5" y="1128.7">1800</text><text class="ax" x="183.5" y="1146">1600</text><text class="ax" x="183.5" y="1165.4">1400</text><text class="ax" x="183.5" y="1189.1">1200</text><text class="ax" x="183.5" y="1215">1000</text><text class="ax" x="183.5" y="1231.2">900</text><text class="ax" x="183.5" y="1248.5">800</text><text class="ax" x="183.5" y="1268.2">700</text><text class="ax" x="183.5" y="1290.5">600</text><text class="ax" x="183.5" y="1317.5">500</text>
</g>
<g>
 <text class="xl" x="101.5" y="1362.5">200°С</text><text class="xl" x="147.2" y="1362.5">100°С</text><text class="xl" x="183.8" y="1362.5">20°С</text><text class="xl" x="214" y="1362.5">3,4</text><text class="xl" x="238.6" y="1362.5">4</text><text class="xl" x="273.7" y="1362.5">5</text><text class="xl" x="304.3" y="1362.5">6</text><text class="xl" x="328.1" y="1362.5">7</text><text class="xl" x="349.9" y="1362.5">8</text><text class="xl" x="368.5" y="1362.5">9</text><text class="xl" x="386.1" y="1362.5">10</text><text class="xl" x="416" y="1362.5">12</text><text class="xl" x="440.6" y="1362.5">14</text><text class="xl" x="462.3" y="1362.5">16</text><text class="xl" x="478.1" y="1362.5">18</text><text class="xl" x="497.5" y="1362.5">20</text><text class="xl" x="526.6" y="1362.5">24</text><text class="xl" x="562.5" y="1362.5">30</text>
</g>
<text x="116" y="866" font-size="17" font-weight="bold" fill="#2a3d8c">P<tspan font-size="10" dy="3">v</tspan><tspan dy="-3">, Па</tspan></text>
<text x="472.9" y="1389" font-size="17" font-weight="bold" fill="#2a3d8c" textLength="112" lengthAdjust="spacingAndGlyphs">Q, 10³·м³/год</text>

<!-- LEGEND -->
<text class="lg" x="598.3" y="874" textLength="173.3" lengthAdjust="spacingAndGlyphs">PV - повний тиск, Па;</text>
<text class="lg" x="598.3" y="895" textLength="333.5" lengthAdjust="spacingAndGlyphs">Q - продуктивність повітрям, тис. м³/год;</text>
<text class="lg" x="598.3" y="915.6" textLength="325" lengthAdjust="spacingAndGlyphs">N - споживана потужність двигуна, кВт;</text>
<text class="lg" x="598.3" y="936.4" textLength="281" lengthAdjust="spacingAndGlyphs">U-окружна швидкість колеса, м/с;</text>
<text class="lg" x="598.3" y="957.2" textLength="381.7" lengthAdjust="spacingAndGlyphs">n - частота обертання робочого колеса, об/хв;</text>
<text class="lg" x="598.3" y="978" textLength="262.2" lengthAdjust="spacingAndGlyphs">η-коефіцієнт корисної дії (ККД).</text>
<rect x="857" y="1010" width="4" height="7" fill="#000"/>

<!-- 3D RENDER -->
<g transform="translate(588.1,850.7) scale(0.2913,0.3467)" stroke="#333" stroke-width="3" stroke-linejoin="round">
 <polygon points="10,990 60,978 560,1150 560,1200 520,1210 10,1008" fill="#d6d6d6"/>
 <polygon points="95,800 330,765 700,870 700,940 490,955 95,835" fill="#eaeaea"/>
 <polygon points="95,835 490,955 490,975 95,850" fill="#bdbdbd"/>
 <polygon points="130,850 150,856 150,1000 130,995" fill="#cfcfcf"/>
 <polygon points="150,880 440,1000 440,1015 150,895" fill="#c8c8c8"/>
 <polygon points="440,960 520,975 520,1140 440,1120" fill="#d8d8d8"/>
 <polygon points="520,1010 700,960 700,990 520,1045" fill="#cfcfcf"/>
 <polygon points="520,1130 700,1080 700,1110 520,1160" fill="#cfcfcf"/>
 <ellipse cx="280" cy="1045" rx="30" ry="28" fill="#d0d0d0"/>
 <ellipse cx="280" cy="1045" rx="13" ry="12" fill="#fff"/>
 <path d="M60,560 C100,510 160,495 220,500 L330,540 C420,570 500,610 530,650 C560,720 540,800 480,840 L400,850 C300,830 200,780 100,720 C60,700 40,620 60,560 Z" fill="#2b34b8" stroke="#10104a"/>
 <g clip-path="url(#mclip)" stroke="#161a80" stroke-width="7">
  <line x1="40" y1="540" x2="500" y2="720"/><line x1="40" y1="575" x2="500" y2="755"/><line x1="40" y1="610" x2="500" y2="790"/><line x1="40" y1="645" x2="500" y2="825"/><line x1="40" y1="680" x2="500" y2="860"/><line x1="40" y1="505" x2="500" y2="685"/>
 </g>
 <polygon points="330,565 450,535 490,575 485,640 390,665 335,625" fill="#3039c4" stroke="#10104a"/>
 <polygon points="330,565 450,535 490,575 375,600" fill="#4650d8" stroke="#10104a"/>
 <ellipse cx="482" cy="740" rx="55" ry="100" fill="#2028a0" stroke="#10104a"/>
 <polygon points="190,760 330,810 330,850 190,800" fill="#1a1a70"/>
 <polygon points="530,770 650,750 720,790 745,900 640,925 560,880" fill="#e0e0e0"/>
 <ellipse cx="590" cy="915" rx="30" ry="22" fill="#555"/>
 <polygon points="420,715 545,665 640,690 640,905 605,920 560,895 520,870 470,915 420,895" fill="#f4e62a"/>
 <polygon points="545,665 640,690 640,905 605,920 605,700" fill="#d8c81a"/>
 <polygon points="420,715 545,665 605,700 480,745" fill="#fff27a"/>
 <ellipse cx="525" cy="790" rx="35" ry="55" fill="#cfcfcf"/>
 <path d="M680,1000 C690,820 850,680 1030,630 C1200,600 1350,660 1460,780 L1510,850 L1505,870 C1500,1050 1450,1250 1360,1420 C1300,1520 1220,1560 1160,1560 L800,1560 C760,1520 720,1450 700,1380 C680,1300 670,1100 680,1000 Z" fill="#cfcfcf"/>
 <path d="M680,1000 C690,820 850,680 1030,630 L1060,830 C950,860 880,950 870,1050 L870,1290 L850,1560 L800,1560 C760,1520 720,1450 700,1380 C680,1300 670,1100 680,1000 Z" fill="url(#grayL)"/>
 <polygon points="1060,830 1500,850 1495,1000 1440,1230 1360,1420 1260,1520 1200,1560 850,1560 870,1290 880,1000" fill="#e2e2e2"/>
 <path d="M870,1290L1245,1310M1455,850L1410,1010L1250,1310L1195,1560" fill="none"/>
 <line x1="1060" y1="822" x2="1510" y2="850" stroke-width="7"/>
 <ellipse cx="1137" cy="1085" rx="175" ry="178" fill="#c4c4c4"/>
 <ellipse cx="1150" cy="1090" rx="148" ry="152" fill="#8a8a8a"/>
 <ellipse cx="1158" cy="1092" rx="132" ry="138" fill="url(#pink)"/>
 <g fill="#b01515" stroke="#5a0a0a">
  <polygon points="1030,990 1110,975 1112,1010 1032,1025"/>
  <polygon points="1025,1040 1110,1030 1110,1065 1025,1075"/>
  <polygon points="1030,1090 1110,1085 1110,1120 1035,1125"/>
  <polygon points="1045,1140 1110,1140 1110,1170 1055,1170"/>
 </g>
 <ellipse cx="985" cy="1410" rx="82" ry="98" fill="#d8d8d8"/>
 <ellipse cx="985" cy="1410" rx="50" ry="62" fill="none"/>
 <g fill="#444" stroke="none"><circle cx="985" cy="1322" r="7"/><circle cx="1045" cy="1350" r="7"/><circle cx="1060" cy="1410" r="7"/><circle cx="1045" cy="1470" r="7"/><circle cx="985" cy="1498" r="7"/><circle cx="925" cy="1470" r="7"/><circle cx="910" cy="1410" r="7"/><circle cx="925" cy="1350" r="7"/></g>
 <polygon points="560,1148 812,1238 695,1565 440,1448" fill="#cccccc"/>
 <polygon points="600,1180 782,1255 690,1518 482,1428" fill="#6b3a3a"/>
 <polygon points="482,1428 690,1518 700,1468" fill="#d58a8a"/>
</g>
<text font-size="17" font-weight="bold" font-style="italic" fill="#fff" text-anchor="middle" transform="translate(937.7,1126) rotate(-30)">ukrvent.ua</text>

<!-- FOOTER -->
<text class="ft" x="65.9" y="1464" textLength="174.6" lengthAdjust="spacingAndGlyphs">УКРВЕНТСИСТЕМИ</text>
<text class="ft" x="65.9" y="1485" textLength="129" lengthAdjust="spacingAndGlyphs">сайт:ukrvent.ua</text>
<text class="ft" x="65.9" y="1506" textLength="215.4" lengthAdjust="spacingAndGlyphs">E-mail: zavod@ukrvent.ua</text>
<text class="ft" x="1051" y="1464" text-anchor="end" textLength="131" lengthAdjust="spacingAndGlyphs">Відділ продажу</text>
<text class="ft" x="1051" y="1485" text-anchor="end" textLength="265" lengthAdjust="spacingAndGlyphs">+38 (097) 699-14-81 - Київстар;</text>
<text class="ft" x="1051" y="1506" text-anchor="end" textLength="314.5" lengthAdjust="spacingAndGlyphs">+38 (099) 199-69-06 - Vodofon (Viber)</text>
</svg>
</body></html>
